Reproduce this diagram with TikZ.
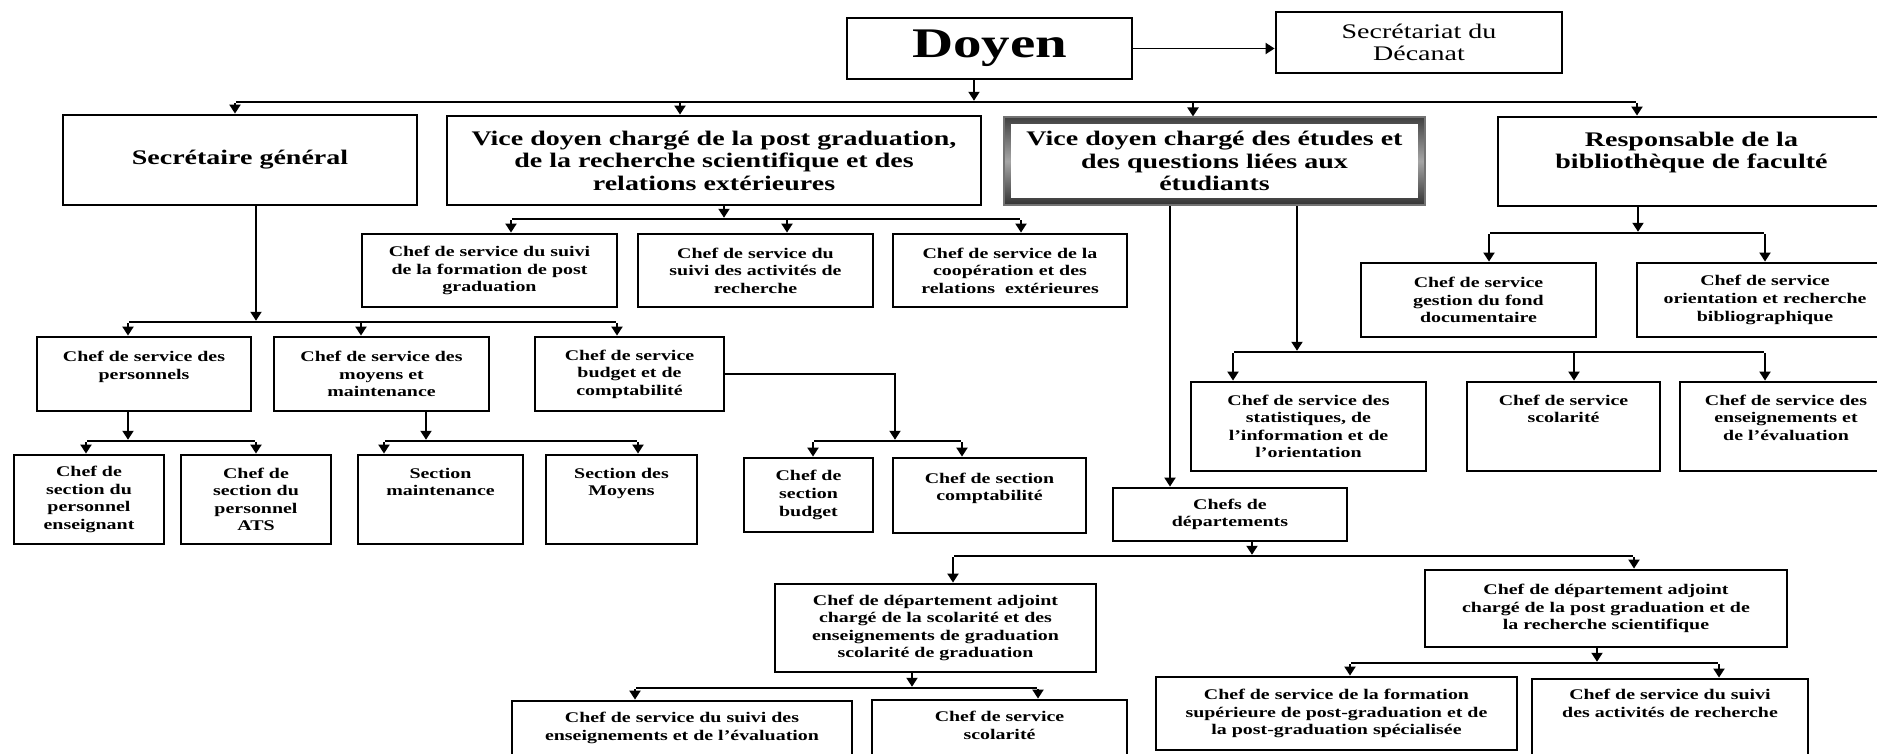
\documentclass[tikz,border=0pt]{standalone}
\usepackage{fontspec}
\setmainfont{Liberation Serif}[FakeStretch=1.35]
\usepackage{tikz}
\usetikzlibrary{arrows.meta}
\pgfdeclarelayer{edgelayer}
\pgfdeclarelayer{nodelayer}
\pgfsetlayers{edgelayer,nodelayer,main}
\tikzstyle{none}=[inner sep=0pt]
\tikzstyle{link}=[draw=black, line width=1.1pt]
\tikzstyle{arrowlink}=[draw=black, line width=1.1pt, -{Triangle[length=0.18cm, width=0.22cm]}]
\tikzstyle{box}=[rectangle, draw=black, fill=white, line width=1.6pt, inner sep=1pt, align=center, font=\fontsize{8.4}{10}\selectfont\bfseries]
\tikzstyle{bigbox}=[box, font=\fontsize{11.8}{12.8}\selectfont\bfseries]
\tikzstyle{headbox}=[box, font=\fontsize{24}{26}\selectfont\bfseries]
\tikzstyle{plainbox}=[box, font=\fontsize{11.8}{12.5}\selectfont]
\tikzstyle{framebox}=[bigbox, draw=black!55, line width=0.6pt, path picture={
	\shade [top color=black!75, bottom color=black!80, middle color=black!35] (path picture bounding box.south west) rectangle (path picture bounding box.north east);
	\fill [white] ([shift={(0.14,0.14)}]path picture bounding box.south west) rectangle ([shift={(-0.14,-0.14)}]path picture bounding box.north east);}]

\begin{document}
\begin{tikzpicture}
	\useasboundingbox (0,0) rectangle (37.54,-15.08);
	\begin{pgfonlayer}{nodelayer}
		\node [style=headbox, minimum width=5.70cm, minimum height=1.22cm] (0) at (19.79, -0.97) {Doyen};
		\node [style=plainbox, minimum width=5.72cm, minimum height=1.22cm] (1) at (28.38, -0.85) {Secrétariat du\\Décanat};
		\node [style=bigbox, minimum width=7.08cm, minimum height=1.80cm] (2) at (4.80, -3.20) {Secrétaire général};
		\node [style=bigbox, minimum width=10.68cm, minimum height=1.78cm] (3) at (14.28, -3.21) {Vice doyen chargé de la post graduation,\\de la recherche scientifique et des\\relations extérieures};
		\node [style=framebox, minimum width=8.42cm, minimum height=1.76cm] (4) at (24.29, -3.22) {Vice doyen chargé des études et\\des questions liées aux\\étudiants};
		\node [style=bigbox, minimum width=7.74cm, minimum height=1.78cm] (5) at (33.83, -3.23) {Responsable de la\\bibliothèque de faculté\\\mbox{}};
		\node [style=box, minimum width=5.10cm, minimum height=1.46cm] (6) at (9.79, -5.41) {Chef de service du suivi\\de la formation de post\\graduation};
		\node [style=box, minimum width=4.70cm, minimum height=1.46cm] (7) at (15.11, -5.41) {Chef de service du\\suivi des activités de\\recherche};
		\node [style=box, minimum width=4.68cm, minimum height=1.46cm] (8) at (20.20, -5.41) {Chef de service de la\\coopération et des\\relations~~extérieures};
		\node [style=box, minimum width=4.28cm, minimum height=1.48cm] (9) at (2.88, -7.48) {Chef de service des\\personnels\\\mbox{}};
		\node [style=box, minimum width=4.30cm, minimum height=1.48cm] (10) at (7.63, -7.48) {Chef de service des\\moyens et\\maintenance};
		\node [style=box, minimum width=3.78cm, minimum height=1.48cm] (11) at (12.59, -7.48) {Chef de service\\budget et de\\comptabilité};
		\node [style=box, minimum width=3.00cm, minimum height=1.78cm] (12) at (1.78, -9.99) {Chef de\\section du\\personnel\\enseignant};
		\node [style=box, minimum width=3.00cm, minimum height=1.78cm] (13) at (5.12, -9.99) {Chef de\\section du\\personnel\\ATS};
		\node [style=box, minimum width=3.30cm, minimum height=1.78cm] (14) at (8.81, -9.99) {Section\\maintenance\\\mbox{}\\\mbox{}};
		\node [style=box, minimum width=3.02cm, minimum height=1.78cm] (15) at (12.43, -9.99) {Section des\\Moyens\\\mbox{}\\\mbox{}};
		\node [style=box, minimum width=2.58cm, minimum height=1.48cm] (16) at (16.17, -9.90) {Chef de\\section\\budget};
		\node [style=box, minimum width=3.86cm, minimum height=1.50cm] (17) at (19.79, -9.91) {Chef de section\\comptabilité\\\mbox{}};
		\node [style=box, minimum width=4.68cm, minimum height=1.06cm] (18) at (24.60, -10.29) {Chefs de\\départements};
		\node [style=box, minimum width=4.70cm, minimum height=1.78cm] (19) at (26.17, -8.53) {Chef de service des\\statistiques, de\\l’information et de\\l’orientation};
		\node [style=box, minimum width=3.86cm, minimum height=1.78cm] (20) at (31.27, -8.53) {Chef de service\\scolarité\\\mbox{}\\\mbox{}};
		\node [style=box, minimum width=4.24cm, minimum height=1.78cm] (21) at (35.72, -8.53) {Chef de service des\\enseignements et\\de l’évaluation\\\mbox{}};
		\node [style=box, minimum width=4.70cm, minimum height=1.48cm] (22) at (29.57, -6.00) {Chef de service\\gestion du fond\\documentaire};
		\node [style=box, minimum width=5.12cm, minimum height=1.48cm] (23) at (35.30, -6.00) {Chef de service\\orientation et recherche\\bibliographique};
		\node [style=box, minimum width=6.42cm, minimum height=1.76cm] (24) at (18.71, -12.56) {Chef de département adjoint\\chargé de la scolarité et des\\enseignements de graduation\\scolarité de graduation};
		\node [style=box, minimum width=7.24cm, minimum height=1.54cm] (25) at (32.12, -12.17) {Chef de département adjoint\\chargé de la post graduation et de\\la recherche scientifique};
		\node [style=box, minimum width=6.80cm, minimum height=1.72cm] (26) at (13.64, -14.88) {Chef de service du suivi des\\enseignements et de l’évaluation\\\mbox{}\\\mbox{}};
		\node [style=box, minimum width=5.10cm, minimum height=1.72cm] (27) at (19.99, -14.86) {Chef de service\\scolarité\\\mbox{}\\\mbox{}};
		\node [style=box, minimum width=7.22cm, minimum height=1.46cm] (28) at (26.73, -14.27) {Chef de service de la formation\\supérieure de post-graduation et de\\la post-graduation spécialisée};
		\node [style=box, minimum width=5.52cm, minimum height=1.68cm] (29) at (33.40, -14.42) {Chef de service du suivi\\des activités de recherche\\\mbox{}\\\mbox{}};
		\node [style=none] (30) at (19.48, -2.04) {};
		\node [style=none] (31) at (4.70, -2.04) {};
		\node [style=none] (32) at (13.60, -2.04) {};
		\node [style=none] (33) at (23.86, -2.04) {};
		\node [style=none] (34) at (32.74, -2.04) {};
		\node [style=none] (35) at (14.48, -4.38) {};
		\node [style=none] (36) at (10.22, -4.38) {};
		\node [style=none] (37) at (15.74, -4.38) {};
		\node [style=none] (38) at (20.42, -4.38) {};
		\node [style=none] (39) at (5.12, -6.44) {};
		\node [style=none] (40) at (2.56, -6.44) {};
		\node [style=none] (41) at (7.22, -6.44) {};
		\node [style=none] (42) at (12.34, -6.44) {};
		\node [style=none] (43) at (2.56, -8.82) {};
		\node [style=none] (44) at (1.72, -8.82) {};
		\node [style=none] (45) at (5.12, -8.82) {};
		\node [style=none] (46) at (8.52, -8.82) {};
		\node [style=none] (47) at (7.68, -8.82) {};
		\node [style=none] (48) at (12.76, -8.82) {};
		\node [style=none] (49) at (17.90, -8.82) {};
		\node [style=none] (50) at (16.26, -8.82) {};
		\node [style=none] (51) at (19.24, -8.82) {};
		\node [style=none] (52) at (25.94, -7.04) {};
		\node [style=none] (53) at (24.66, -7.04) {};
		\node [style=none] (54) at (31.48, -7.04) {};
		\node [style=none] (55) at (35.30, -7.04) {};
		\node [style=none] (56) at (23.40, -4.10) {};
		\node [style=none] (57) at (32.76, -4.66) {};
		\node [style=none] (58) at (29.78, -4.66) {};
		\node [style=none] (59) at (35.30, -4.66) {};
		\node [style=none] (60) at (25.04, -11.12) {};
		\node [style=none] (61) at (19.06, -11.12) {};
		\node [style=none] (62) at (32.68, -11.12) {};
		\node [style=none] (63) at (18.24, -13.76) {};
		\node [style=none] (64) at (12.70, -13.76) {};
		\node [style=none] (65) at (20.76, -13.76) {};
		\node [style=none] (66) at (31.94, -13.26) {};
		\node [style=none] (67) at (27.00, -13.26) {};
		\node [style=none] (68) at (34.38, -13.26) {};
	\end{pgfonlayer}
	\begin{pgfonlayer}{edgelayer}
		\draw [style=arrowlink] (0.east) to (0.east -| 1.west);
		\draw [style=arrowlink] (0.south -| 30) to (30);
		\draw [style=link] (31) to (34);
		\draw [style=arrowlink] (31) to (31 |- 2.north);
		\draw [style=arrowlink] (32) to (32 |- 3.north);
		\draw [style=arrowlink] (33) to (33 |- 4.north);
		\draw [style=arrowlink] (34) to (34 |- 5.north);
		\draw [style=arrowlink] (3.south -| 35) to (35);
		\draw [style=link] (36) to (38);
		\draw [style=arrowlink] (36) to (36 |- 6.north);
		\draw [style=arrowlink] (37) to (37 |- 7.north);
		\draw [style=arrowlink] (38) to (38 |- 8.north);
		\draw [style=arrowlink] (2.south -| 39) to (39);
		\draw [style=link] (40) to (42);
		\draw [style=arrowlink] (40) to (40 |- 9.north);
		\draw [style=arrowlink] (41) to (41 |- 10.north);
		\draw [style=arrowlink] (42) to (42 |- 11.north);
		\draw [style=arrowlink] (9.south -| 43) to (43);
		\draw [style=link] (44) to (45);
		\draw [style=arrowlink] (44) to (44 |- 12.north);
		\draw [style=arrowlink] (45) to (45 |- 13.north);
		\draw [style=arrowlink] (10.south -| 46) to (46);
		\draw [style=link] (47) to (48);
		\draw [style=arrowlink] (47) to (47 |- 14.north);
		\draw [style=arrowlink] (48) to (48 |- 15.north);
		\draw [style=arrowlink] (11.east) -| (49);
		\draw [style=link] (50) to (51);
		\draw [style=arrowlink] (50) to (50 |- 16.north);
		\draw [style=arrowlink] (51) to (51 |- 17.north);
		\draw [style=arrowlink] (4.south -| 52) to (52);
		\draw [style=link] (53) to (55);
		\draw [style=arrowlink] (53) to (53 |- 19.north);
		\draw [style=arrowlink] (54) to (54 |- 20.north);
		\draw [style=arrowlink] (55) to (55 |- 21.north);
		\draw [style=arrowlink] (56) to (56 |- 18.north);
		\draw [style=arrowlink] (5.south -| 57) to (57);
		\draw [style=link] (58) to (59);
		\draw [style=arrowlink] (58) to (58 |- 22.north);
		\draw [style=arrowlink] (59) to (59 |- 23.north);
		\draw [style=arrowlink] (18.south -| 60) to (60);
		\draw [style=link] (61) to (62);
		\draw [style=arrowlink] (61) to (61 |- 24.north);
		\draw [style=arrowlink] (62) to (62 |- 25.north);
		\draw [style=arrowlink] (24.south -| 63) to (63);
		\draw [style=link] (64) to (65);
		\draw [style=arrowlink] (64) to (64 |- 26.north);
		\draw [style=arrowlink] (65) to (65 |- 27.north);
		\draw [style=arrowlink] (25.south -| 66) to (66);
		\draw [style=link] (67) to (68);
		\draw [style=arrowlink] (67) to (67 |- 28.north);
		\draw [style=arrowlink] (68) to (68 |- 29.north);
	\end{pgfonlayer}
\end{tikzpicture}
\end{document}
